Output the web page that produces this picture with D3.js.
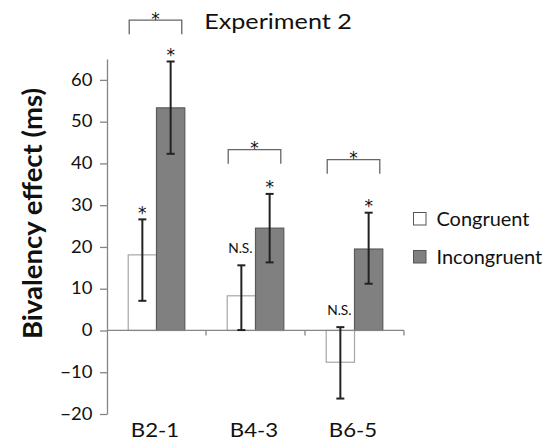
<!DOCTYPE html>
<html>
<head>
<meta charset="utf-8">
<script src="https://cdn.jsdelivr.net/npm/d3@7"></script>
<style>
  body { margin: 0; background: #fff; }
  text { font-family: Lato, "Noto Sans", sans-serif; fill: #111; }
</style>
</head>
<body>
<svg id="chart" width="552" height="444"></svg>
<script>
'use strict'

// values (ms)
var categories = ['B2-1', 'B4-3', 'B6-5'];
var congruent = [18.1, 8.3, -7.6];
var congruentHi = [26.6, 15.6, 0.8];
var congruentLo = [7.1, 0.1, -16.3];
var incongruent = [53.3, 24.5, 19.5];
var incongruentHi = [64.4, 32.7, 28.2];
var incongruentLo = [42.3, 16.3, 11.2];
var congruentSig = ['*', 'N.S.', 'N.S.'];
var incongruentSig = ['*', '*', '*'];
var bracketLevel = [74.3, 43.3, 40.9];
var yTicks = [-20, -10, 0, 10, 20, 30, 40, 50, 60];
var seriesNames = ['Congruent', 'Incongruent'];

var svg = d3.select('#chart');
var axisColor = '#858585';

var x = d3.scaleBand()
  .domain(categories)
  .range([107, 404]);

var y = d3.scaleLinear()
  .domain([-20, 65])
  .range([414, 59]);

var bw = x.bandwidth() / 3.5;   // excel gap width 150%

// text that is a bit wider than Lato (original looks like stretched Calibri)
function wideText(px, py, str, size, sx, anchor){
  return svg.append('text')
    .attr('transform', 'translate(' + px + ',' + py + ') scale(' + sx + ',1)')
    .attr('text-anchor', anchor || 'middle')
    .style('font-size', size + 'px')
    .text(str);
}

function star(px, py, size){
  return svg.append('text')
    .attr('x', px).attr('y', py)
    .attr('text-anchor', 'middle')
    .style('font-family', '"DejaVu Sans", sans-serif')
    .style('font-size', (size || 17) + 'px')
    .text('*');
}

// title
wideText(278, 28.5, 'Experiment 2', 21, 1.2);

// y axis title
svg.append('text')
  .attr('transform', 'translate(41.5,213.5) rotate(-90)')
  .attr('text-anchor', 'middle')
  .style('font-size', '27.5px')
  .style('font-weight', 'bold')
  .text('Bivalency effect (ms)');

// y axis
var yAxis = svg.append('g')
  .attr('transform', 'translate(107,0)')
  .call(d3.axisLeft(y).tickValues(yTicks).tickSize(7).tickSizeOuter(0));
yAxis.select('.domain').attr('stroke', axisColor).attr('stroke-width', 1.3);
yAxis.selectAll('.tick line').attr('stroke', axisColor).attr('stroke-width', 1.3);
yAxis.selectAll('.tick text')
  .attr('x', null)
  .attr('transform', 'translate(-14.5,0) scale(1.12,1)')
  .style('font-size', '16.5px')
  .style('font-family', 'Lato, sans-serif')
  .attr('fill', '#111');

// bars
var groups = svg.selectAll('g.grp')
  .data(categories)
  .enter()
  .append('g')
  .attr('class', 'grp');

function barTop(v){ return Math.min(y(v), y(0)); }
function barH(v){ return Math.abs(y(v) - y(0)); }

groups.append('rect')
  .attr('x', function(d){ return x(d) + bw * 0.75; })
  .attr('y', function(d, i){ return barTop(congruent[i]); })
  .attr('width', bw)
  .attr('height', function(d, i){ return barH(congruent[i]); })
  .attr('fill', '#fff')
  .attr('stroke', '#a6a6a6')
  .attr('stroke-width', 1.2);

groups.append('rect')
  .attr('x', function(d){ return x(d) + bw * 1.75; })
  .attr('y', function(d, i){ return barTop(incongruent[i]); })
  .attr('width', bw)
  .attr('height', function(d, i){ return barH(incongruent[i]); })
  .attr('fill', '#808080')
  .attr('stroke', '#5a5a5a')
  .attr('stroke-width', 1.2);

// x axis (at zero)
var xAxis = svg.append('g')
  .attr('transform', 'translate(0,' + y(0) + ')');
xAxis.append('line')
  .attr('x1', 107).attr('x2', 404)
  .attr('stroke', axisColor).attr('stroke-width', 1.3);
xAxis.selectAll('line.tk')
  .data(categories)
  .enter()
  .append('line')
  .attr('class', 'tk')
  .attr('x1', function(d){ return x(d) + x.bandwidth(); })
  .attr('x2', function(d){ return x(d) + x.bandwidth(); })
  .attr('y1', 0).attr('y2', 5)
  .attr('stroke', axisColor).attr('stroke-width', 1.3);

categories.forEach(function(c){
  wideText(x(c) + x.bandwidth() / 2 - 1.5, 436.5, c, 18.5, 1.2);
});

// error bars
function errBar(cx, hi, lo){
  var g = svg.append('g')
    .attr('stroke', '#222')
    .attr('stroke-width', 2);
  g.append('line').attr('x1', cx).attr('x2', cx).attr('y1', y(hi)).attr('y2', y(lo));
  g.append('line').attr('x1', cx - 4).attr('x2', cx + 4).attr('y1', y(hi)).attr('y2', y(hi));
  g.append('line').attr('x1', cx - 4).attr('x2', cx + 4).attr('y1', y(lo)).attr('y2', y(lo));
}

function sigLabel(cx, hi, label){
  if( label == '*' ){
    star(cx, y(hi) - 0.5);
  }
  else{
    wideText(cx - 1, y(hi) - 12.5, label, 12.5, 1.1);
  }
}

categories.forEach(function(c, i){
  var cx1 = x(c) + bw * 1.25;
  var cx2 = x(c) + bw * 2.25;
  errBar(cx1, congruentHi[i], congruentLo[i]);
  errBar(cx2, incongruentHi[i], incongruentLo[i]);
  sigLabel(cx1, congruentHi[i], congruentSig[i]);
  sigLabel(cx2, incongruentHi[i], incongruentSig[i]);

  // comparison bracket
  var bl = x(c) + bw * 0.75 + 1;
  var br = x(c) + bw * 2.75 - 3;
  var by = y(bracketLevel[i]);
  svg.append('path')
    .attr('d', 'M' + bl + ',' + (by + 14) + 'V' + by + 'H' + br + 'V' + (by + 14))
    .attr('fill', 'none')
    .attr('stroke', '#666')
    .attr('stroke-width', 1.3);
  star((bl + br) / 2, by + 4.5);
});

// legend
var legend = svg.selectAll('g.leg')
  .data(seriesNames)
  .enter()
  .append('g')
  .attr('class', 'leg')
  .attr('transform', function(d, i){ return 'translate(413.5,' + (212.5 + i * 38) + ')'; });
legend.append('rect')
  .attr('width', 12.5).attr('height', 12.5)
  .attr('fill', function(d, i){ return i == 0 ? '#fff' : '#808080'; })
  .attr('stroke', '#555')
  .attr('stroke-width', 1);
legend.append('text')
  .attr('transform', 'translate(23,13.5) scale(1.05,1)')
  .style('font-size', '19px')
  .text(function(d){ return d; });
</script>
</body>
</html>
